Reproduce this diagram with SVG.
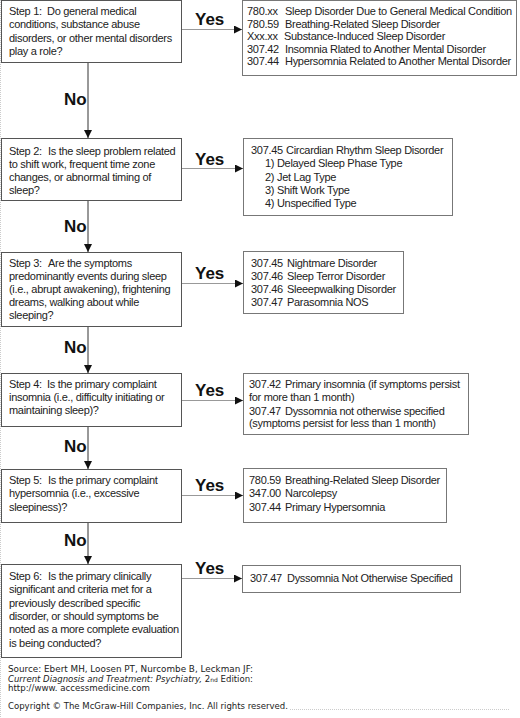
<svg xmlns="http://www.w3.org/2000/svg" width="520" height="718" viewBox="0 0 520 718">
<style>
  .box{fill:#fff;stroke:#555;stroke-width:1}
  .res{fill:#fff;stroke:#777;stroke-width:1}
  .t{font-family:"Liberation Sans",Arial,sans-serif;font-size:11px;letter-spacing:-0.3px;fill:#222}
  .lbl{font-family:"Liberation Sans",Arial,sans-serif;font-size:17px;font-weight:bold;fill:#111}
  .v{stroke:#333;stroke-width:1;fill:none}
  .h{stroke:#999;stroke-width:1;fill:none}
  .f{font-family:"DejaVu Sans",Verdana,sans-serif;font-size:8.5px;fill:#222}
</style>
<defs>
  <marker id="ah" markerUnits="userSpaceOnUse" markerWidth="8" markerHeight="8" refX="8" refY="4" orient="auto">
    <path d="M0,0 L8,4 L0,8 z" fill="#111"/>
  </marker>
</defs>
<rect width="520" height="718" fill="#fff"/>
<line x1="0.5" y1="0" x2="0.5" y2="718" stroke="#ccc" stroke-dasharray="1,1"/>
<line x1="290" y1="709.5" x2="510" y2="709.5" stroke="#ccc" stroke-dasharray="1,1"/>

<g id="connectors">
  <line class="v" x1="88" y1="62" x2="88" y2="138" marker-end="url(#ah)"/>
  <line class="v" x1="88" y1="200" x2="88" y2="252" marker-end="url(#ah)"/>
  <line class="v" x1="88" y1="326" x2="88" y2="373" marker-end="url(#ah)"/>
  <line class="v" x1="88" y1="426" x2="88" y2="469" marker-end="url(#ah)"/>
  <line class="v" x1="88" y1="522" x2="88" y2="564" marker-end="url(#ah)"/>
  <line class="h" x1="181" y1="29.5" x2="242" y2="29.5" marker-end="url(#ah)"/>
  <line class="h" x1="181" y1="168.5" x2="243" y2="168.5" marker-end="url(#ah)"/>
  <line class="h" x1="181" y1="283.5" x2="243" y2="283.5" marker-end="url(#ah)"/>
  <line class="h" x1="181" y1="400.5" x2="243" y2="400.5" marker-end="url(#ah)"/>
  <line class="h" x1="181" y1="495.5" x2="243" y2="495.5" marker-end="url(#ah)"/>
  <line class="h" x1="182" y1="578.5" x2="242" y2="578.5" marker-end="url(#ah)"/>
  <text class="lbl" x="195" y="25">Yes</text>
  <text class="lbl" x="195" y="165">Yes</text>
  <text class="lbl" x="195" y="279">Yes</text>
  <text class="lbl" x="195" y="396">Yes</text>
  <text class="lbl" x="195" y="491">Yes</text>
  <text class="lbl" x="195" y="574">Yes</text>
  <text class="lbl" x="64" y="105">No</text>
  <text class="lbl" x="64" y="232">No</text>
  <text class="lbl" x="64" y="353">No</text>
  <text class="lbl" x="64" y="452">No</text>
  <text class="lbl" x="64" y="546">No</text>
</g>

<g id="step1">
  <rect class="box" x="1.5" y="0.5" width="180" height="62"/>
  <text class="t" x="9" y="15">Step 1:</text><text class="t" x="47" y="15">Do general medical</text>
  <text class="t" x="9" y="28.3">conditions, substance abuse</text>
  <text class="t" x="9" y="41.6">disorders, or other mental disorders</text>
  <text class="t" x="9" y="55">play a role?</text>
</g>
<g id="result1">
  <rect class="res" x="242.5" y="0.5" width="274" height="75"/>
  <text class="t" x="247" y="15">780.xx</text><text class="t" x="285" y="15">Sleep Disorder Due to General Medical Condition</text>
  <text class="t" x="247" y="27.5">780.59</text><text class="t" x="285" y="27.5">Breathing-Related Sleep Disorder</text>
  <text class="t" x="247" y="40">Xxx.xx</text><text class="t" x="284" y="40">Substance-Induced Sleep Disorder</text>
  <text class="t" x="247" y="52.5">307.42</text><text class="t" x="285" y="52.5">Insomnia Rlated to Another Mental Disorder</text>
  <text class="t" x="247" y="65">307.44</text><text class="t" x="285" y="65">Hypersomnia Related to Another Mental Disorder</text>
</g>

<g id="step2">
  <rect class="box" x="1.5" y="138.5" width="180" height="62"/>
  <text class="t" x="9" y="155">Step 2:</text><text class="t" x="48" y="155">Is the sleep problem related</text>
  <text class="t" x="9" y="168">to shift work, frequent time zone</text>
  <text class="t" x="9" y="181">changes, or abnormal timing of</text>
  <text class="t" x="9" y="194">sleep?</text>
</g>
<g id="result2">
  <rect class="res" x="243.5" y="138.5" width="209" height="77"/>
  <text class="t" x="251" y="154">307.45</text><text class="t" x="286" y="154">Circardian Rhythm Sleep Disorder</text>
  <text class="t" x="265" y="167">1) Delayed Sleep Phase Type</text>
  <text class="t" x="265" y="181">2) Jet Lag Type</text>
  <text class="t" x="265" y="194">3) Shift Work Type</text>
  <text class="t" x="265" y="207">4) Unspecified Type</text>
</g>

<g id="step3">
  <rect class="box" x="1.5" y="252.5" width="180" height="74"/>
  <text class="t" x="9" y="267">Step 3:</text><text class="t" x="48" y="267">Are the symptoms</text>
  <text class="t" x="9" y="280">predominantly events during sleep</text>
  <text class="t" x="9" y="293">(i.e., abrupt awakening), frightening</text>
  <text class="t" x="9" y="306">dreams, walking about while</text>
  <text class="t" x="9" y="319">sleeping?</text>
</g>
<g id="result3">
  <rect class="res" x="243.5" y="251.5" width="160" height="62"/>
  <text class="t" x="251" y="267">307.45</text><text class="t" x="287" y="267">Nightmare Disorder</text>
  <text class="t" x="251" y="280">307.46</text><text class="t" x="287" y="280">Sleep Terror Disorder</text>
  <text class="t" x="251" y="293">307.46</text><text class="t" x="287" y="293">Sleeepwalking Disorder</text>
  <text class="t" x="251" y="306">307.47</text><text class="t" x="287" y="306">Parasomnia NOS</text>
</g>

<g id="step4">
  <rect class="box" x="1.5" y="373.5" width="180" height="53"/>
  <text class="t" x="9" y="388">Step 4:</text><text class="t" x="47" y="388">Is the primary complaint</text>
  <text class="t" x="9" y="401">insomnia (i.e., difficulty initiating or</text>
  <text class="t" x="9" y="414">maintaining sleep)?</text>
</g>
<g id="result4">
  <rect class="res" x="243.5" y="373.5" width="225" height="61"/>
  <text class="t" x="249" y="388">307.42</text><text class="t" x="285" y="388">Primary insomnia (if symptoms persist</text>
  <text class="t" x="249" y="401">for more than 1 month)</text>
  <text class="t" x="249" y="414.5">307.47</text><text class="t" x="285" y="414.5">Dyssomnia not otherwise specified</text>
  <text class="t" x="249" y="427">(symptoms persist for less than 1 month)</text>
</g>

<g id="step5">
  <rect class="box" x="1.5" y="469.5" width="180" height="53"/>
  <text class="t" x="9" y="484">Step 5:</text><text class="t" x="48" y="484">Is the primary complaint</text>
  <text class="t" x="9" y="497">hypersomnia (i.e., excessive</text>
  <text class="t" x="9" y="511">sleepiness)?</text>
</g>
<g id="result5">
  <rect class="res" x="243.5" y="468.5" width="203" height="54"/>
  <text class="t" x="249" y="484">780.59</text><text class="t" x="285" y="484">Breathing-Related Sleep Disorder</text>
  <text class="t" x="249" y="497">347.00</text><text class="t" x="285" y="497">Narcolepsy</text>
  <text class="t" x="249" y="511">307.44</text><text class="t" x="285" y="511">Primary Hypersomnia</text>
</g>

<g id="step6">
  <rect class="box" x="1.5" y="564.5" width="180" height="93"/>
  <text class="t" x="9" y="580">Step 6:</text><text class="t" x="48" y="580">Is the primary clinically</text>
  <text class="t" x="9" y="593">significant and criteria met for a</text>
  <text class="t" x="9" y="607">previously described specific</text>
  <text class="t" x="9" y="620">disorder, or should symptoms be</text>
  <text class="t" x="9" y="633">noted as a more complete evaluation</text>
  <text class="t" x="9" y="647">is being conducted?</text>
</g>
<g id="result6">
  <rect class="res" x="242.5" y="565.5" width="218" height="27"/>
  <text class="t" x="250" y="582">307.47</text><text class="t" x="287" y="582">Dyssomnia Not Otherwise Specified</text>
</g>

<g id="footer">
  <text class="f" x="8" y="672" textLength="245" lengthAdjust="spacingAndGlyphs">Source: Ebert MH, Loosen PT, Nurcombe B, Leckman JF:</text>
  <text class="f" x="8" y="682" textLength="245" lengthAdjust="spacingAndGlyphs"><tspan font-style="italic">Current Diagnosis and Treatment: Psychiatry,</tspan> 2<tspan font-size="6">nd</tspan> Edition:</text>
  <text class="f" x="8" y="691" textLength="142" lengthAdjust="spacingAndGlyphs">http://www. accessmedicine.com</text>
  <text class="f" x="8" y="709" textLength="280" lengthAdjust="spacingAndGlyphs">Copyright © The McGraw-Hill Companies, Inc. All rights reserved.</text>
</g>
</svg>
